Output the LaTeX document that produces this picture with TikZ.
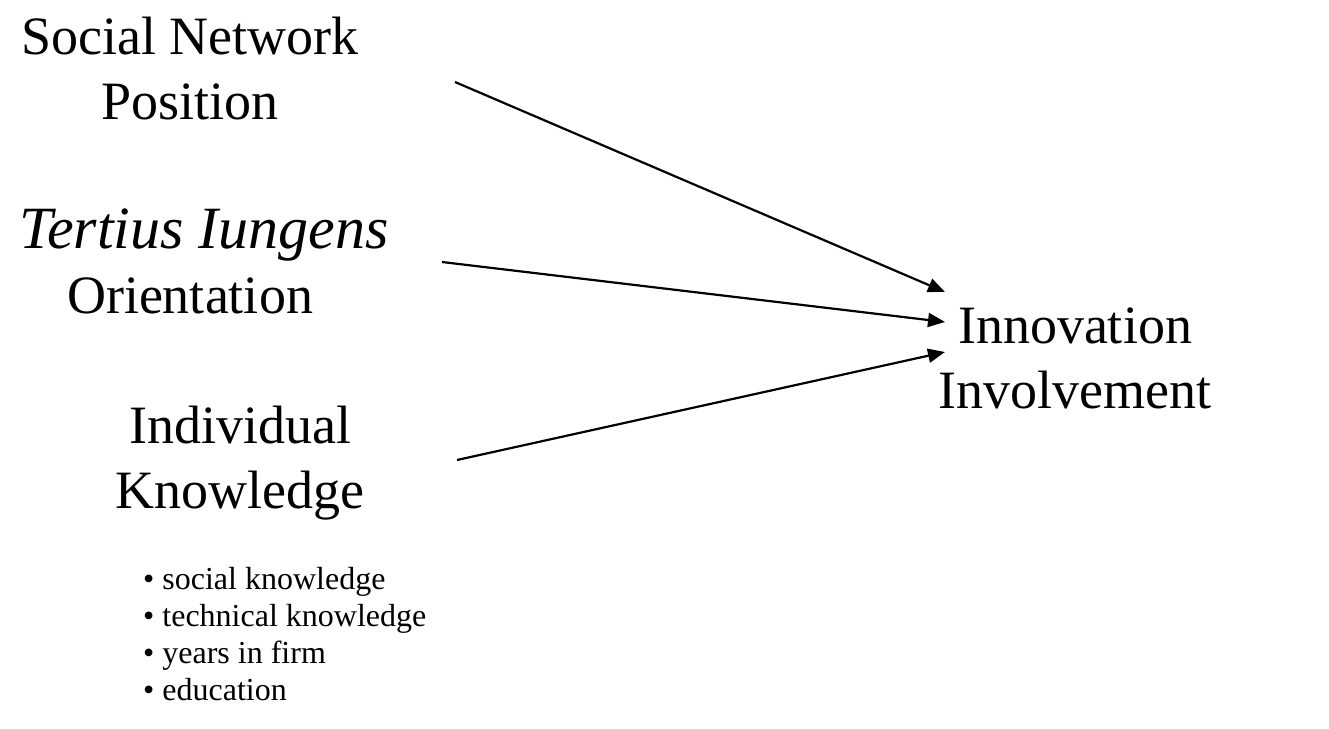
\documentclass[tikz,border=0pt]{standalone}
\usepackage{fontspec}
\setmainfont{Liberation Serif}
\usetikzlibrary{arrows.meta}
\begin{document}
\begin{tikzpicture}[x=1pt,y=-1pt,
  big/.style={font=\fontsize{54}{65}\selectfont, align=center, inner sep=0pt},
  small/.style={font=\fontsize{32}{37}\selectfont, align=left, inner sep=0pt},
  link/.style={line width=2.2pt, -{Triangle[length=17pt,width=14pt]}}]
\useasboundingbox (0,0) rectangle (1329,728);
\node[big, anchor=base] (snp) at (190,119) {Social Network\\Position};
\node[big, anchor=base] (tio) at (190,313) {\hspace*{28pt}{\fontsize{60}{65}\selectfont\textit{Tertius Iungens}}\\Orientation};
\node[big, anchor=base] (ik) at (240,508) {Individual\\Knowledge};
\node[big, anchor=base] (ii) at (1075,408) {Innovation\\Involvement};
\node[small, anchor=north west] (bl) at (143,567) {\textbullet\ social knowledge\\\textbullet\ technical knowledge\\\textbullet\ years in firm\\\textbullet\ education};
\coordinate (s1) at (455,82);
\coordinate (s2) at (442,262);
\coordinate (s3) at (457,460);
\coordinate (e1) at (945,292);
\coordinate (e2) at (945,322);
\coordinate (e3) at (945,352);
\draw[link] (s1) -- (e1);
\draw[link] (s2) -- (e2);
\draw[link] (s3) -- (e3);
\end{tikzpicture}
\end{document}
